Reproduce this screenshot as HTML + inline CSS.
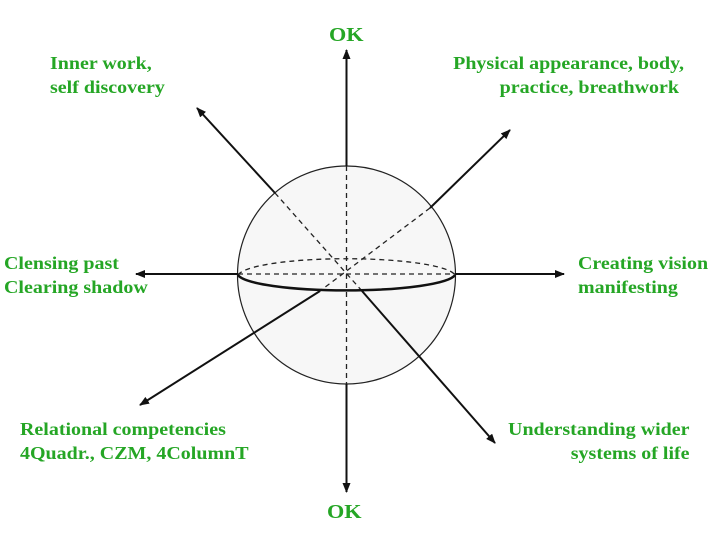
<!DOCTYPE html>
<html><head><style>
body{margin:0;background:#fff;}
.t{position:absolute;font-family:"Liberation Serif",serif;font-weight:bold;color:#25a625;font-size:18px;line-height:24px;white-space:nowrap;transform:scaleX(1.11);transform-origin:left top;}
.r{text-align:right;transform-origin:right top;}
</style></head><body>
<div style="position:relative;width:714px;height:538px;overflow:hidden">
<svg width="714" height="538" style="position:absolute;left:0;top:0">
<defs><marker id="a" markerWidth="10" markerHeight="8" refX="9" refY="4" orient="auto" markerUnits="userSpaceOnUse"><path d="M0,0 L10,4 L0,8 Z" fill="#111"/></marker></defs>
<circle cx="346.5" cy="275" r="109" fill="#f7f7f7" stroke="#222" stroke-width="1.2"/>
<g stroke="#111" stroke-width="2" fill="none">
<line x1="346.5" y1="166" x2="346.5" y2="50" marker-end="url(#a)"/>
<line x1="346.5" y1="384" x2="346.5" y2="492" marker-end="url(#a)"/>
<line x1="238" y1="274" x2="136" y2="274" marker-end="url(#a)"/>
<line x1="455" y1="274" x2="564" y2="274" marker-end="url(#a)"/>
<line x1="275" y1="193" x2="197" y2="108" marker-end="url(#a)"/>
<line x1="430" y1="208" x2="510" y2="130" marker-end="url(#a)"/>
<line x1="320" y1="291" x2="140" y2="405" marker-end="url(#a)"/>
<line x1="362" y1="291" x2="495" y2="443" marker-end="url(#a)"/>
</g>
<g stroke="#222" stroke-width="1.3" stroke-dasharray="5,4" fill="none">
<line x1="346.5" y1="166" x2="346.5" y2="384"/>
<line x1="238" y1="274" x2="455" y2="274"/>
<line x1="275" y1="193" x2="362" y2="291"/>
<line x1="430" y1="208" x2="320" y2="291"/>
<path d="M238,275 A109,18 0 0 1 455,275"/>
</g>
<path d="M238,275 A109,17 0 0 0 455,275" stroke="#111" stroke-width="2.5" fill="none"/>
</svg>
<div class="t" style="left:329px;top:23px;font-size:20px">OK</div>
<div class="t" style="left:327px;top:500px;font-size:20px">OK</div>
<div class="t" style="left:50px;top:51px">Inner work,<br>self discovery</div>
<div class="t r" style="right:30px;top:51px">Physical appearance, body,<br>practice, breathwork&nbsp;</div>
<div class="t" style="left:4px;top:251px">Clensing past<br>Clearing shadow</div>
<div class="t" style="left:578px;top:251px">Creating vision<br>manifesting</div>
<div class="t" style="left:20px;top:417px">Relational competencies<br>4Quadr., CZM, 4ColumnT</div>
<div class="t r" style="right:24px;top:417px">Understanding wider<br>systems of life</div>
</div>
</body></html>
